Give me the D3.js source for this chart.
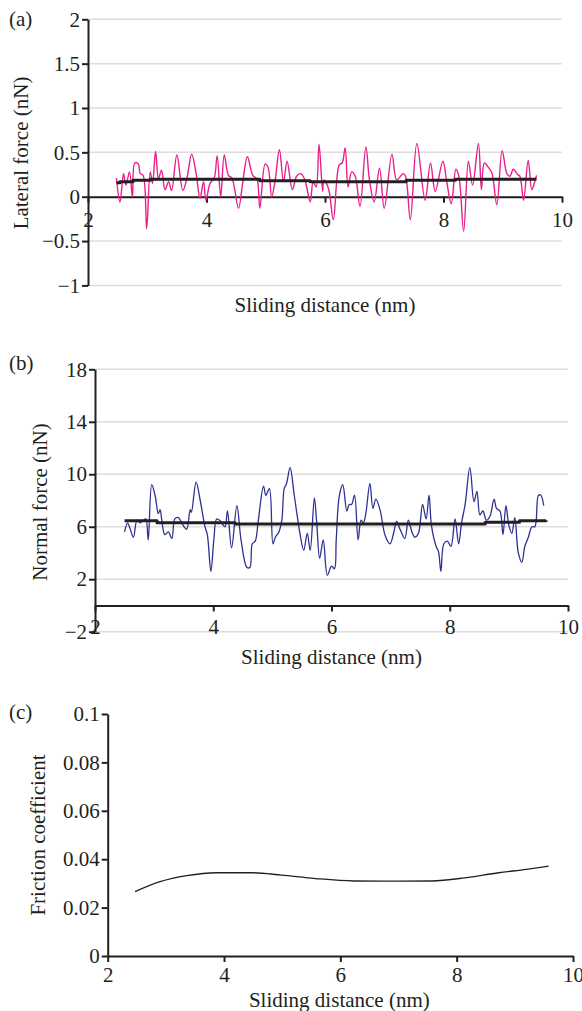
<!DOCTYPE html>
<html>
<head>
<meta charset="utf-8">
<script src="https://cdn.jsdelivr.net/npm/d3@7"></script>
<style>
  body { margin: 0; background: #fff; }
  svg { display: block; }
</style>
</head>
<body>
<svg width="582" height="1011"></svg>
<script>
  // tick values
  const xTicks = [2, 4, 6, 8, 10];
  const lateralTicks = [-1, -0.5, 0, 0.5, 1, 1.5, 2];
  const normalTicks = [-2, 2, 6, 10, 14, 18];
  const frictionTicks = [0, 0.02, 0.04, 0.06, 0.08, 0.1];

  // (a) lateral force, raw trace
  const lateralDist = [2.48, 2.54, 2.6, 2.64, 2.7, 2.75, 2.79, 2.85, 2.88, 2.93, 2.99, 3.05, 3.09, 3.14, 3.19,
    3.24, 3.3, 3.36, 3.41, 3.5, 3.6, 3.67, 3.75, 3.83, 3.89, 3.95, 3.99, 4.06, 4.13, 4.18, 4.24, 4.3, 4.37,
    4.43, 4.54, 4.61, 4.69, 4.78, 4.85, 4.9, 4.99, 5.04, 5.1, 5.16, 5.23, 5.3, 5.36, 5.45, 5.52, 5.59, 5.66,
    5.75, 5.8, 5.85, 5.9, 5.96, 5.98, 6.06, 6.14, 6.24, 6.29, 6.34, 6.39, 6.45, 6.51, 6.59, 6.69, 6.75, 6.83,
    6.92, 7.0, 7.13, 7.21, 7.32, 7.36, 7.44, 7.55, 7.69, 7.78, 7.86, 7.99, 8.05, 8.13, 8.21, 8.26, 8.34, 8.42,
    8.49, 8.59, 8.64, 8.69, 8.77, 8.82, 8.9, 8.99, 9.07, 9.12, 9.18, 9.25, 9.29, 9.35, 9.43, 9.49, 9.54, 9.57];
  const lateralForce = [0.21, -0.06, 0.26, 0.13, 0.28, 0, 0.38, 0.37, 0.26, 0.24, -0.36, 0.28, 0.15, 0.51, 0.2,
    0.3, 0.08, 0.17, 0.07, 0.47, 0.07, 0.21, 0.48, 0.24, -0.02, 0.17, -0.04, 0.15, 0.21, 0.46, 0, 0.47, 0.24,
    0.21, -0.13, 0.15, 0.45, 0.24, 0.2, -0.13, 0.37, 0.33, 0, 0.19, 0.53, 0.17, 0.4, 0.08, 0.23, 0.26, 0.19,
    -0.06, 0.17, 0.11, 0.59, 0.06, 0.19, 0.09, -0.26, 0.36, 0.38, 0.55, 0.11, 0.28, 0.23, -0.11, 0.56, 0.19, -0.06,
    0.32, -0.13, 0.48, 0.19, 0.26, 0.23, -0.26, 0.6, -0.04, 0.38, 0.06, 0.4, 0.19, -0.08, 0.31, 0.23, -0.39, 0.4,
    0.13, 0.6, 0.08, 0.38, 0.32, 0.26, -0.09, 0.52, 0.26, 0.23, 0.31, 0.25, 0.23, -0.04, 0.41, 0.08, 0.17, 0.24];
  // (a) lateral force, running average (steps)
  const lateralAvgDist = [2.48, 2.54, 2.76, 3.05, 4.9, 5.75, 7.37, 8.2, 9.57];
  const lateralAvg = [0.158, 0.169, 0.185, 0.196, 0.18, 0.169, 0.185, 0.198, 0.198];

  // (b) normal force, raw trace
  const normalDist = [2.5, 2.55, 2.59, 2.65, 2.71, 2.76, 2.82, 2.86, 2.9, 2.96, 3.02, 3.07, 3.1, 3.13, 3.18,
    3.24, 3.3, 3.35, 3.41, 3.49, 3.55, 3.61, 3.63, 3.71, 3.78, 3.86, 3.9, 3.96, 4.01, 4.06, 4.13, 4.17, 4.2,
    4.24, 4.31, 4.4, 4.47, 4.57, 4.62, 4.66, 4.71, 4.76, 4.85, 4.89, 4.95, 5.01, 5.05, 5.11, 5.16, 5.2, 5.24,
    5.3, 5.37, 5.47, 5.53, 5.59, 5.64, 5.71, 5.75, 5.8, 5.86, 5.93, 6.0, 6.05, 6.08, 6.13, 6.19, 6.26, 6.3,
    6.34, 6.39, 6.45, 6.5, 6.54, 6.58, 6.65, 6.7, 6.75, 6.82, 6.91, 6.99, 7.05, 7.1, 7.16, 7.24, 7.3, 7.36,
    7.41, 7.47, 7.54, 7.6, 7.65, 7.69, 7.77, 7.81, 7.85, 7.9, 7.96, 8.02, 8.09, 8.15, 8.2, 8.26, 8.34, 8.41,
    8.46, 8.51, 8.56, 8.62, 8.68, 8.75, 8.79, 8.85, 8.9, 8.95, 9.0, 9.05, 9.1, 9.16, 9.22, 9.27, 9.33, 9.39,
    9.44, 9.5, 9.54, 9.59];
  const normalForce = [5.6, 6.3, 5.9, 5.2, 6.5, 6.3, 6.5, 6.6, 5.0, 9.2, 8.3, 7.0, 7.3, 6.5, 5.4,
    5.6, 5.1, 6.6, 6.7, 6.1, 5.8, 7.3, 7.1, 9.4, 8.0, 6.0, 5.4, 2.6, 5.0, 6.6, 6.4, 6.1, 6.0,
    7.2, 4.4, 7.6, 5.0, 2.9, 2.9, 4.7, 4.9, 6.4, 9.1, 8.4, 8.9, 4.7, 5.2, 5.6, 6.5, 8.9, 9.3,
    10.5, 8.4, 5.4, 4.2, 5.5, 4.2, 8.2, 6.3, 3.6, 5.0, 2.3, 3.0, 2.8, 5.0, 8.3, 9.2, 7.2, 7.7,
    7.7, 8.4, 5.0, 6.5, 6.3, 7.0, 9.3, 7.4, 8.1, 7.3, 5.3, 4.7, 5.5, 6.4, 5.8, 5.1, 6.5, 5.6,
    5.2, 5.5, 7.7, 6.6, 8.4, 6.1, 4.5, 4.1, 2.6, 4.7, 4.9, 4.5, 6.6, 4.7, 6.3, 7.7, 10.5, 7.9,
    8.7, 6.9, 7.2, 6.5, 6.8, 8.1, 7.4, 7.2, 5.4, 7.6, 6.1, 5.5, 6.7, 4.0, 3.3, 4.5, 5.2, 6.0,
    6.0, 8.4, 8.4, 7.6];
  // (b) normal force, running average (steps)
  const normalAvgDist = [2.5, 3.05, 4.37, 8.6, 9.18, 9.63];
  const normalAvg = [6.45, 6.3, 6.2, 6.35, 6.45, 6.5];

  // (c) friction coefficient
  const frictionDist = [2.47, 2.9, 3.36, 3.87, 4.5, 4.99, 5.57, 6.23, 7.0, 7.57, 8.14, 8.72, 9.2, 9.58];
  const friction = [0.0266, 0.0307, 0.0332, 0.0344, 0.0344, 0.0334, 0.032, 0.031, 0.0309, 0.031, 0.0323,
    0.0344, 0.0358, 0.0371];

  const ink = "#231f20";
  const font = "'Liberation Serif', 'Times New Roman', serif";
  const svg = d3.select("svg");

  function panel(o) {
    const x = d3.scaleLinear().domain([2, 10]).range([o.left, o.right]);
    const y = d3.scaleLinear().domain(o.yDomain).range([o.bottom, o.top]);
    const g = svg.append("g");

    if (o.grid) {
      g.append("g")
        .selectAll("line")
        .data(o.yTicks)
        .join("line")
        .attr("x1", o.left)
        .attr("x2", o.right)
        .attr("y1", d => y(d))
        .attr("y2", d => y(d))
        .attr("stroke", "#dedede")
        .attr("stroke-width", 1.5);
    }

    const fmt = d => (d < 0 ? "\u2212" + Math.abs(d) : String(d));

    const yAxis = g.append("g")
      .attr("transform", `translate(${o.left},0)`)
      .call(d3.axisLeft(y).tickValues(o.yTicks).tickFormat(fmt).tickSize(6).tickSizeOuter(0).tickPadding(2));

    const xAxis = g.append("g")
      .attr("transform", `translate(0,${y(0)})`)
      .call(d3.axisBottom(x).tickValues(xTicks).tickSize(6).tickSizeOuter(0).tickPadding(o.xPad));

    [yAxis, xAxis].forEach(a => {
      a.attr("font-family", font).attr("font-size", 21);
      a.selectAll("path, line").attr("stroke", ink).attr("stroke-width", 2);
      a.selectAll("text").attr("fill", ink);
    });

    const line = (xs, ys, curve) => d3.line()
      .x((d, i) => x(xs[i]))
      .y(d => y(d))
      .curve(curve)(ys);

    o.series.forEach(s => {
      g.append("path")
        .attr("d", line(s.xs, s.ys, s.curve))
        .attr("fill", "none")
        .attr("stroke", s.color)
        .attr("stroke-width", s.width)
        .attr("stroke-linejoin", "round");
    });

    g.append("text")
      .attr("x", (o.left + o.right) / 2 + o.titleShift)
      .attr("y", o.titleY)
      .attr("text-anchor", "middle")
      .attr("font-family", font)
      .attr("font-size", 21)
      .attr("fill", ink)
      .text("Sliding distance (nm)");

    g.append("text")
      .attr("transform", `translate(${o.yTitleX},${o.yTitleY}) rotate(-90)`)
      .attr("text-anchor", "middle")
      .attr("font-family", font)
      .attr("font-size", 21)
      .attr("fill", ink)
      .text(o.yTitle);

    g.append("text")
      .attr("x", 9)
      .attr("y", o.tagY)
      .attr("font-family", font)
      .attr("font-size", 21)
      .attr("fill", ink)
      .text(o.tag);
  }

  panel({
    tag: "(a)", tagY: 26,
    left: 88, right: 562, top: 19.3, bottom: 285.4,
    yDomain: [-1, 2], yTicks: lateralTicks, grid: true, xPad: 9,
    titleY: 312, titleShift: 0,
    yTitle: "Lateral force (nN)", yTitleX: 28, yTitleY: 153,
    series: [
      { xs: lateralDist, ys: lateralForce, color: "#ea1f8b", width: 1.4, curve: d3.curveCatmullRom },
      { xs: lateralAvgDist, ys: lateralAvg, color: ink, width: 3, curve: d3.curveStepAfter }
    ]
  });

  panel({
    tag: "(b)", tagY: 370,
    left: 95, right: 568, top: 369.3, bottom: 631.7,
    yDomain: [-2, 18], yTicks: normalTicks, grid: true, xPad: 8,
    titleY: 664, titleShift: 0,
    yTitle: "Normal force (nN)", yTitleX: 47, yTitleY: 502,
    series: [
      { xs: normalDist, ys: normalForce, color: "#2e3192", width: 1.3, curve: d3.curveCatmullRom },
      { xs: normalAvgDist, ys: normalAvg, color: ink, width: 3, curve: d3.curveStepAfter }
    ]
  });

  panel({
    tag: "(c)", tagY: 719,
    left: 107.7, right: 573, top: 714, bottom: 956,
    yDomain: [0, 0.1], yTicks: frictionTicks, grid: false, xPad: 5,
    titleY: 1007, titleShift: -1,
    yTitle: "Friction coefficient", yTitleX: 45, yTitleY: 835,
    series: [
      { xs: frictionDist, ys: friction, color: ink, width: 1.3, curve: d3.curveMonotoneX }
    ]
  });
</script>
</body>
</html>
